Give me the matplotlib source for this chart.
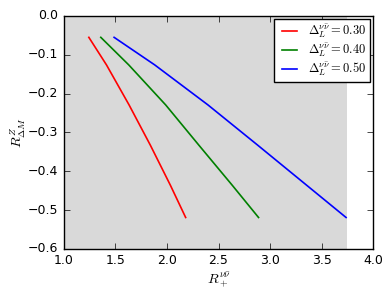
import matplotlib
matplotlib.use('Agg')
import matplotlib.pyplot as plt

# データ
red_x = [1.242, 1.413, 1.632, 1.839, 2.033, 2.181]
red_y = [-0.055, -0.126, -0.229, -0.333, -0.436, -0.519]
green_x = [1.358, 1.629, 1.987, 2.310, 2.633, 2.888]
green_y = [-0.055, -0.126, -0.229, -0.333, -0.436, -0.519]
blue_x = [1.487, 1.881, 2.397, 2.881, 3.355, 3.737]
blue_y = [-0.055, -0.126, -0.229, -0.333, -0.436, -0.519]
labels = [r'$\Delta_L^{\nu\bar{\nu}}=0.30$',
          r'$\Delta_L^{\nu\bar{\nu}}=0.40$',
          r'$\Delta_L^{\nu\bar{\nu}}=0.50$']
shade = (1.0, 3.75)

plt.style.use('classic')
plt.rcParams['mathtext.fontset'] = 'cm'
plt.rcParams['font.size'] = 9

fig = plt.figure(figsize=(3.92, 2.96), dpi=100)
ax = fig.add_axes([0.163, 0.159, 0.789, 0.787])

ax.axvspan(shade[0], shade[1], color='#d9d9d9', lw=0)
ax.plot(red_x, red_y, color='red', lw=1.2, label=labels[0])
ax.plot(green_x, green_y, color='green', lw=1.2, label=labels[1])
ax.plot(blue_x, blue_y, color='blue', lw=1.2, label=labels[2])

ax.set_xlim(1.0, 4.0)
ax.set_ylim(-0.6, 0.0)
ax.set_xlabel(r'$R_+^{\nu\bar{\nu}}$', fontsize=10, labelpad=2)
ax.set_ylabel(r'$R^{Z}_{\Delta M}$', fontsize=10, labelpad=0)
ax.tick_params(labelsize=9, length=4)
ax.legend(loc='upper right', fontsize=9, handlelength=1.8, labelspacing=0.1,
          borderaxespad=0.25, borderpad=0.3, handletextpad=0.6)

fig.savefig('out.png', dpi=100)
